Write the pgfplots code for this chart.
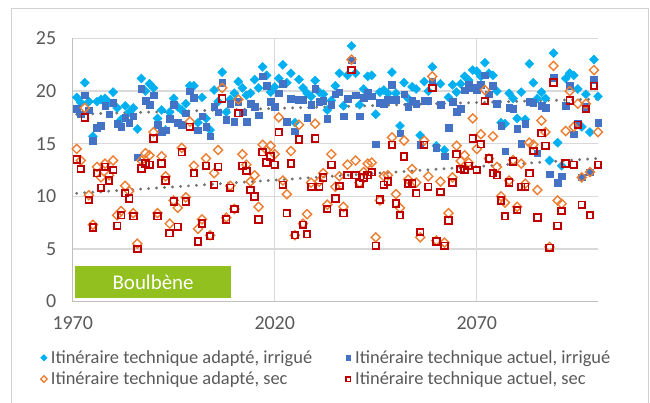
\documentclass[border=0pt]{standalone}
\usepackage{fontspec}
\setmainfont{Carlito}
\usepackage{pgfplots}
\usepackage{pgfplotstable}
\pgfplotsset{compat=1.18}
\definecolor{adirr}{RGB}{0,176,240}
\definecolor{acirr}{RGB}{68,114,196}
\definecolor{adsec}{RGB}{237,125,49}
\definecolor{acsec}{RGB}{192,0,0}
\definecolor{txt}{RGB}{89,89,89}
\definecolor{boul}{RGB}{146,192,31}

% year, adapte irrigue, actuel irrigue, adapte sec, actuel sec
\pgfplotstableread{
year AI CI AS CS
1971 19.4 18.3 14.5 13.5
1972 18.9 17.8 13.4 12.6
1973 20.8 19.6 18.4 17.5
1974 19.0 18.2 10.1 9.65
1975 15.7 15.3 7.3 7.05
1976 19.0 16.5 12.8 12.2
1977 19.2 16.7 11.8 10.8
1978 19.3 18.6 13.1 12.8
1979 18.9 17.8 12.0 11.5
1980 19.9 18.9 13.4 12.5
1981 18.4 16.9 8.2 7.2
1982 17.3 16.6 8.6 8.2
1983 18.6 17.5 11.0 10.3
1984 18.0 17.0 10.5 9.8
1985 18.4 17.6 8.4 8.1
1986 16.4 13.7 5.5 5.0
1987 21.2 20.2 13.4 12.65
1988 20.0 19.1 14.1 13.1
1989 20.7 18.7 13.9 13.0
1990 20.3 19.6 16.1 15.5
1991 17.4 16.8 8.4 8.1
1992 18.2 16.1 13.8 13.1
1993 16.3 16.3 11.9 11.5
1994 18.0 17.4 7.4 6.5
1995 19.3 18.7 9.6 9.5
1996 18.5 17.0 8.9 7.1
1997 18.2 16.8 14.6 14.2
1998 18.8 17.9 9.9 9.5
1999 20.5 20.0 17.1 16.6
2000 20.5 19.4 12.9 12.2
2001 17.0 16.3 6.9 5.7
2002 19.4 17.6 7.8 7.4
2003 17.4 16.6 13.6 12.9
2004 16.3 15.7 6.3 6.2
2005 20.1 18.5 12.2 11.1
2006 19.0 18.0 14.4 12.8
2007 21.8 20.8 20.3 19.3
2008 18.0 17.3 7.97 7.8
2009 19.2 18.8 11.0 10.8
2010 19.8 17.1 8.8 8.8
2011 20.9 19.0 19.2 17.9
2012 20.3 18.0 14.0 12.9
2013 19.6 17.1 13.0 12.4
2014 19.8 18.8 11.4 10.6
2015 21.1 18.5 12.0 10.0
2016 20.3 17.7 9.0 7.8
2017 22.3 21.4 14.9 14.2
2018 21.5 20.5 14.4 13.2
2019 19.9 19.0 14.8 13.8
2020 20.4 18.5 14.0 13.0
2021 21.2 19.8 17.5 16.1
2022 22.5 20.7 11.5 11.1
2023 20.8 17.1 10.2 8.4
2024 21.7 19.3 14.3 13.1
2025 17.0 16.2 6.3 6.3
2026 21.1 19.2 16.8 15.4
2027 20.3 19.2 7.4 7.3
2028 19.8 17.5 8.3 6.4
2029 19.5 18.7 11.3 10.9
2030 21.0 20.2 16.9 15.5
2031 19.9 19.0 11.4 10.9
2032 19.7 19.1 12.2 11.8
2033 18.2 17.4 9.2 8.8
2034 19.1 18.7 14.0 13.0
2035 20.5 19.7 10.9 9.8
2036 21.7 19.9 11.9 10.97
2037 18.6 17.6 9.0 8.4
2038 21.5 19.3 13.0 12.0
2039 24.3 22.95 23.0 22.0
2040 21.7 19.6 13.4 12.0
2041 18.7 17.6 11.3 11.2
2042 20.2 19.4 12.3 11.8
2043 21.4 19.9 13.1 12.0
2044 21.5 19.5 13.2 12.3
2045 17.8 14.96 6.1 5.3
2046 19.9 18.9 9.6 9.7
2047 20.1 18.8 11.9 11.1
2048 19.8 19.2 12.0 11.4
2049 21.8 20.6 15.6 14.9
2050 19.8 19.2 10.2 9.3
2051 16.7 15.98 8.9 8.2
2052 20.8 19.7 15.3 13.8
2053 19.3 18.5 11.6 11.2
2054 20.4 19.1 12.6 11.2
2055 20.2 18.8 11.3 10.3
2056 15.8 14.9 6.1 6.6
2057 20.9 19.1 15.3 14.9
2058 20.0 19.1 11.9 10.9
2059 22.3 20.95 21.4 20.3
2060 14.8 14.6 5.8 5.7
2061 20.7 18.7 11.4 10.4
2062 14.4 13.8 5.6 5.3
2063 19.4 16.5 8.4 7.7
2064 20.6 19.0 11.8 11.3
2065 19.9 18.05 14.8 14.0
2066 20.7 18.3 13.35 12.6
2067 21.4 20.1 13.9 12.5
2068 21.05 20.6 13.2 12.9
2069 22.0 20.3 17.4 15.5
2070 21.9 20.1 14.5 12.5
2071 21.4 20.6 15.9 14.95
2072 22.7 21.5 20.1 19.05
2073 21.7 19.7 13.6 13.6
2074 21.5 20.5 15.7 12.2
2075 20.0 18.8 12.8 12.0
2076 17.0 16.7 10.0 9.6
2077 16.9 14.3 9.4 8.1
2078 19.8 18.4 11.5 11.3
2079 19.3 18.3 13.45 13.3
2080 17.4 16.4 9.0 8.7
2081 19.9 15.0 13.1 10.9
2082 17.3 16.9 11.2 10.9
2083 22.6 19.0 15.1 12.2
2084 20.8 18.9 14.9 14.3
2085 19.3 14.1 10.6 7.97
2086 19.9 18.6 17.2 16.0
2087 19.3 18.4 16.1 14.8
2088 13.4 12.1 5.2 5.1
2089 23.6 21.3 22.4 20.8
2090 15.1 11.3 9.6 7.2
2091 12.9 11.9 9.3 8.6
2092 21.2 18.6 16.2 13.1
2093 21.7 20.5 20.0 19.1
2094 21.5 15.9 16.6 13.0
2095 20.2 16.9 18.8 16.8
2096 16.6 11.8 11.8 9.2
2097 19.7 18.5 18.8 18.3
2098 16.1 12.3 12.3 8.2
2099 23.0 21.1 22.0 20.5
2100 19.5 17.0 16.1 13.0
}\yields

\begin{document}
\begin{tikzpicture}
\begin{axis}[
  at={(0,0)}, anchor=south west,
  scale only axis,
  width=525.3bp, height=263bp,
  xmin=1970, xmax=2100,
  ymin=0, ymax=25,
  xtick={1970,2020,2070},
  ytick={0,5,10,15,20,25},
  major tick length=0pt,
  xmajorgrids, ymajorgrids,
  grid style={draw=black!15, line width=1.2bp},
  axis x line*=bottom, axis y line*=left,
  axis line style={draw=black!25, line width=1.2bp},
  tick label style={font=\fontsize{20}{24}\selectfont, text=txt},
  /pgf/number format/assume math mode=true,
  /pgf/number format/1000 sep={},
  xticklabel style={yshift=-12bp},
  yticklabel style={xshift=-13bp},
  legend columns=2,
  legend cell align=left,
  legend style={draw=none, fill=none, at={(0,0)}, anchor=north west,
    xshift=-37bp, yshift=-45bp,
    font=\fontsize{18.5}{22}\selectfont, text=txt,
    /tikz/every even column/.append style={column sep=29bp},
    row sep=3bp},
  legend image code/.code={%
    \pgfpathrectangle{\pgfqpoint{0bp}{-3bp}}{\pgfqpoint{10bp}{6bp}}\pgfusepath{discard}%
    \draw[mark repeat=2,mark phase=2,#1,mark size=2.3bp] plot coordinates {(0bp,0bp) (5bp,0bp) (10bp,0bp)};},
  clip=false,
]
\addplot[only marks, mark=square*, mark size=3.2bp, mark options={rotate=45, draw=adirr, fill=adirr}] table[x=year, y=AI] {\yields};
\addlegendentry{Itinéraire technique adapté, irrigué}
\addplot[only marks, mark=square*, mark size=3.3bp, mark options={draw=acirr, fill=acirr}] table[x=year, y=CI] {\yields};
\addlegendentry{Itinéraire technique actuel, irrigué}
\addplot[only marks, mark=square, mark size=3.2bp, mark options={rotate=45, draw=adsec, line width=1.4bp}] table[x=year, y=AS] {\yields};
\addlegendentry{Itinéraire technique adapté, sec}
\addplot[only marks, mark=square, mark size=3.3bp, mark options={draw=acsec, line width=1.8bp}] table[x=year, y=CS] {\yields};
\addlegendentry{Itinéraire technique actuel, sec}
% linear trends
\addplot[forget plot, draw=black!55, line width=3.2bp, line cap=round, dash pattern=on 0bp off 8bp] coordinates {(1971,17.8) (2100,19.25)};
\addplot[forget plot, draw=black!55, line width=3.2bp, line cap=round, dash pattern=on 0bp off 8bp] coordinates {(1971,10.28) (2100,13.6)};
\fill[boul] (axis cs:1970.6,0.33) rectangle (axis cs:2009.1,3.37);
\node[text=white, font=\fontsize{21}{24}\selectfont] at (axis cs:1989.9,1.85) {Boulbène};
\end{axis}
\draw[black!18, line width=1bp] (-60.7bp,-110bp) -- (-60.7bp,292.5bp) -- (575.3bp,292.5bp) -- (575.3bp,-110bp);
\pgfresetboundingbox
\path[use as bounding box] (-72.7bp,-101.5bp) rectangle (577.3bp,301.5bp);
\end{tikzpicture}
\end{document}
